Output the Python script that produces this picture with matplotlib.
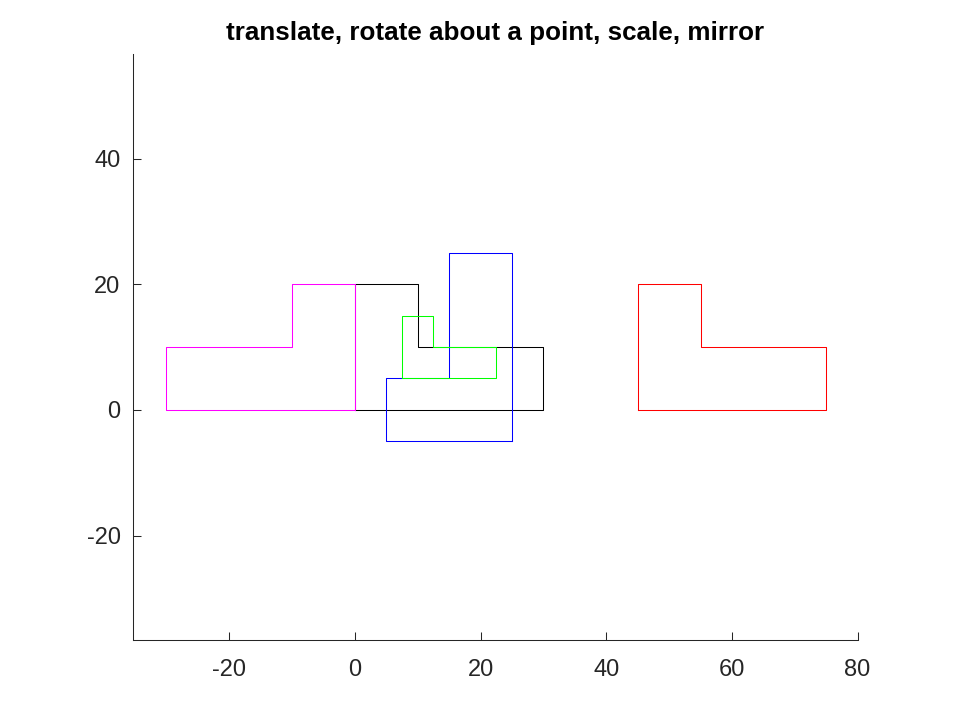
import matplotlib
matplotlib.use('Agg')
import matplotlib.pyplot as plt

plt.rcParams['font.family'] = ['Liberation Sans', 'DejaVu Sans']
plt.rcParams['axes.unicode_minus'] = False

TITLE = 'translate, rotate about a point, scale, mirror'
XTICKS = [-20, 0, 20, 40, 60, 80]
YTICKS = [-20, 0, 20, 40]

# closed outlines, one per transform
original_x = [0, 30, 30, 10, 10, 0, 0]
original_y = [0, 0, 10, 10, 20, 20, 0]
translated_x = [45, 75, 75, 55, 55, 45, 45]
translated_y = [0, 0, 10, 10, 20, 20, 0]
rotated_x = [25, 25, 15, 15, 5, 5, 25]
rotated_y = [-5, 25, 25, 5, 5, -5, -5]
scaled_x = [7.5, 22.5, 22.5, 12.5, 12.5, 7.5, 7.5]
scaled_y = [5, 5, 10, 10, 15, 15, 5]
mirrored_x = [0, -30, -30, -10, -10, 0, 0]
mirrored_y = [0, 0, 10, 10, 20, 20, 0]

fig = plt.figure(figsize=(9.6, 7.2), dpi=100)
ax = fig.add_axes([133 / 960, 1 - 639.9 / 720, 724.6 / 960, 585.9 / 720])

ax.plot(original_x, original_y, color='#000000', lw=0.75)
ax.plot(translated_x, translated_y, color='#ff0000', lw=0.75)
ax.plot(rotated_x, rotated_y, color='#0000ff', lw=0.75)
ax.plot(scaled_x, scaled_y, color='#00ff00', lw=0.75)
ax.plot(mirrored_x, mirrored_y, color='#ff00ff', lw=0.75)

ax.set_xlim(-35.325, 80)
ax.set_ylim(-36.61, 56.64)
ax.set_xticks(XTICKS)
ax.set_yticks(YTICKS)
ax.spines['top'].set_visible(False)
ax.spines['right'].set_visible(False)
ax.spines['left'].set_color('#262626')
ax.spines['bottom'].set_color('#262626')
ax.spines['left'].set_linewidth(0.75)
ax.spines['bottom'].set_linewidth(0.75)
ax.tick_params(direction='in', length=5.5, width=0.75, color='#262626',
               labelcolor='#262626', labelsize=17, pad=14)
ax.tick_params(axis='y', pad=9)
ax.set_title(TITLE, fontsize=18.7, fontweight='bold', color='black', pad=10)

fig.savefig('out.png', dpi=100)
